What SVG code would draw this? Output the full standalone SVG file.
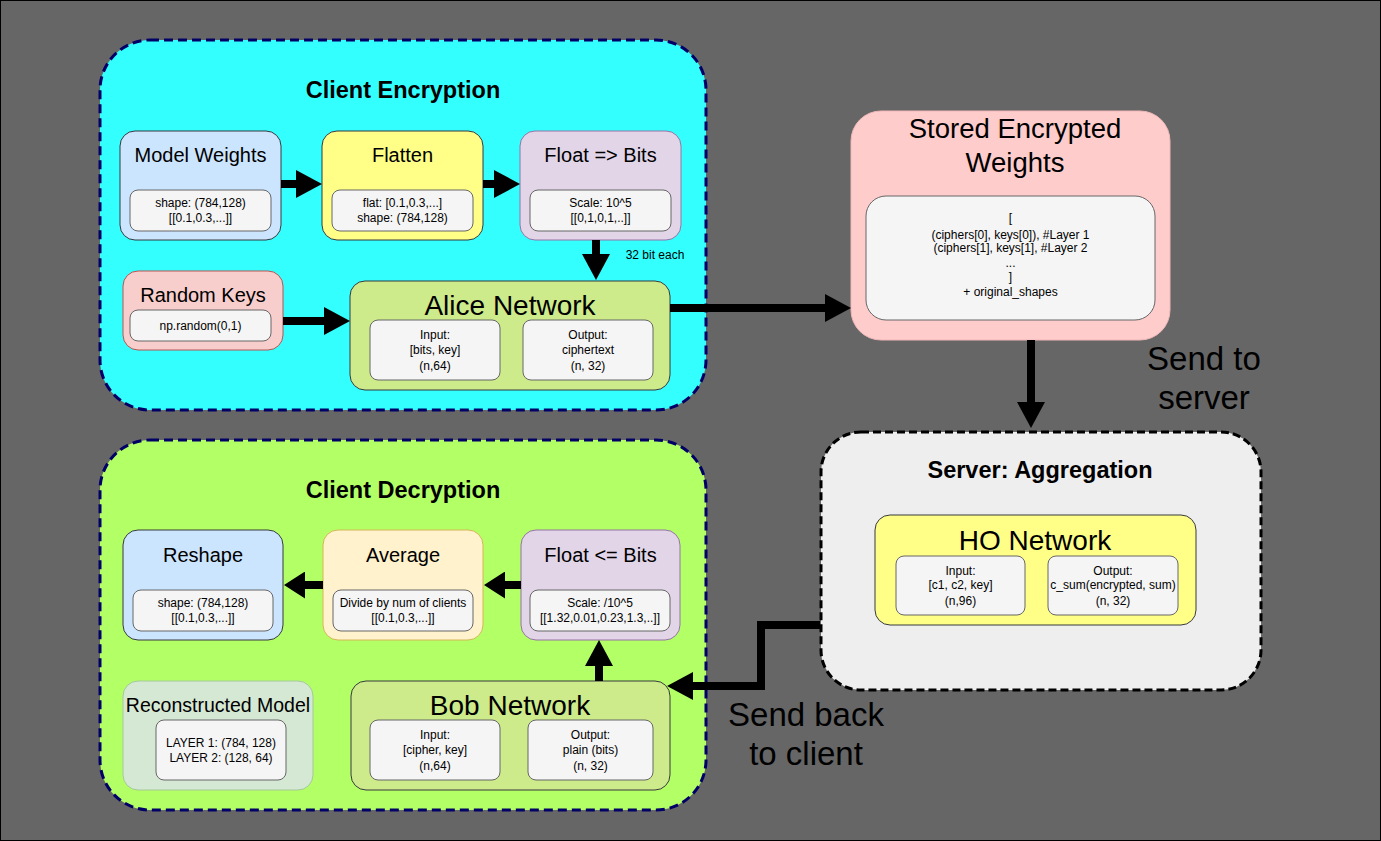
<svg xmlns="http://www.w3.org/2000/svg" width="1381" height="841" viewBox="0 0 1381 841">
<style>
text{font-family:"Liberation Sans",Arial,Helvetica,sans-serif;fill:#000;text-anchor:middle}
.t12{font-size:12px}
.t20{font-size:20px}
.t27{font-size:27.5px}
.t28{font-size:28px}
.t32{font-size:33px}
.tb{font-size:23.5px;font-weight:bold}
.cont{stroke:#000066;stroke-width:3;stroke-dasharray:9 5}
.inner{fill:#F5F5F5;stroke:#666666;stroke-width:1}
.dk{stroke:#36393D;stroke-width:1}
.edge{fill:none;stroke:#000;stroke-width:8}
</style>
<defs>
<marker id="head" viewBox="0 0 26 28" refX="0" refY="14" markerWidth="26" markerHeight="28" markerUnits="userSpaceOnUse" orient="auto">
<path d="M0 0 L26 14 L0 28 Z" fill="#000"/>
</marker>
<marker id="headS" viewBox="0 0 21 27" refX="0" refY="13.5" markerWidth="21" markerHeight="27" markerUnits="userSpaceOnUse" orient="auto">
<path d="M0 0 L21 13.5 L0 27 Z" fill="#000"/>
</marker>
</defs>
<rect x="0.5" y="0.5" width="1380" height="840" fill="#666666" stroke="#000" stroke-width="1"/>

<g id="client-encryption">
<rect x="100" y="40" width="606" height="370" rx="50" fill="#33FFFF" class="cont"/>
<text x="403" y="98" class="tb">Client Encryption</text>
</g>
<g id="client-decryption">
<rect x="100" y="440" width="606" height="370" rx="50" fill="#B3FF66" class="cont"/>
<text x="403" y="498" class="tb">Client Decryption</text>
</g>

<g id="model-weights">
<rect x="120" y="131" width="161" height="109" rx="15" fill="#CCE5FF" class="dk"/>
<text x="200.5" y="162" class="t20">Model Weights</text>
<rect x="130" y="190" width="141" height="41" rx="8" class="inner"/>
<text x="200.5" y="207" class="t12">shape: (784,128)</text>
<text x="200.5" y="222" class="t12">[[0.1,0.3,...]]</text>
</g>
<g id="flatten">
<rect x="322" y="131" width="161" height="109" rx="15" fill="#FFFF88" class="dk"/>
<text x="402.5" y="162" class="t20">Flatten</text>
<rect x="332" y="190" width="141" height="41" rx="8" class="inner"/>
<text x="402.5" y="207" class="t12">flat: [0.1,0.3,...]</text>
<text x="402.5" y="222" class="t12">shape: (784,128)</text>
</g>
<g id="float-to-bits">
<rect x="520" y="131" width="161" height="109" rx="15" fill="#E1D5E7" stroke="#9673A6" stroke-width="1"/>
<text x="600.5" y="162" class="t20">Float =&gt; Bits</text>
<rect x="530" y="190" width="141" height="41" rx="8" class="inner"/>
<text x="600.5" y="207" class="t12">Scale: 10^5</text>
<text x="600.5" y="222" class="t12">[[0,1,0,1,..]]</text>
</g>
<g id="random-keys">
<rect x="123" y="271" width="160" height="79" rx="15" fill="#F8CECC" stroke="#B85450" stroke-width="1"/>
<text x="203" y="302" class="t20">Random Keys</text>
<rect x="130" y="310" width="141" height="31" rx="8" class="inner"/>
<text x="200.5" y="330" class="t12">np.random(0,1)</text>
</g>
<g id="alice-network">
<rect x="350" y="281" width="320" height="109" rx="15" fill="#CDEB8B" class="dk"/>
<text x="510" y="315" class="t28">Alice Network</text>
<rect x="370" y="320" width="130" height="60" rx="8" class="inner"/>
<text x="435" y="339" class="t12">Input:</text>
<text x="435" y="354" class="t12">[bits, key]</text>
<text x="435" y="370" class="t12">(n,64)</text>
<rect x="523" y="320" width="130" height="60" rx="8" class="inner"/>
<text x="588" y="339" class="t12">Output:</text>
<text x="588" y="354" class="t12">ciphertext</text>
<text x="588" y="370" class="t12">(n, 32)</text>
</g>

<g id="stored-weights">
<rect x="851" y="111" width="319" height="229" rx="30" fill="#FFCCCC" stroke="#F0B8B8" stroke-width="1"/>
<text x="1015" y="138" class="t27">Stored Encrypted</text>
<text x="1015" y="172" class="t27">Weights</text>
<rect x="866" y="196" width="289" height="124" rx="20" class="inner"/>
<text x="1010.5" y="222" class="t12">[</text>
<text x="1010.5" y="239" class="t12">(ciphers[0], keys[0]), #Layer 1</text>
<text x="1010.5" y="252" class="t12">(ciphers[1], keys[1], #Layer 2</text>
<text x="1010.5" y="267" class="t12">...</text>
<text x="1010.5" y="281" class="t12">]</text>
<text x="1010.5" y="296" class="t12">+ original_shapes</text>
</g>

<g id="server">
<rect x="821" y="432" width="440" height="258" rx="40" fill="#EEEEEE" stroke="#000" stroke-width="3" stroke-dasharray="8 4"/>
<text x="1040" y="478" class="tb">Server: Aggregation</text>
</g>
<g id="ho-network">
<rect x="875" y="515" width="321" height="110" rx="15" fill="#FFFF88" class="dk"/>
<text x="1035" y="550" class="t28">HO Network</text>
<rect x="896" y="556" width="129" height="59" rx="8" class="inner"/>
<text x="960.5" y="575" class="t12">Input:</text>
<text x="960.5" y="589" class="t12">[c1, c2, key]</text>
<text x="960.5" y="605" class="t12">(n,96)</text>
<rect x="1048" y="556" width="130" height="59" rx="8" class="inner"/>
<text x="1113" y="575" class="t12">Output:</text>
<text x="1113" y="589" class="t12">c_sum(encrypted, sum)</text>
<text x="1113" y="605" class="t12">(n, 32)</text>
</g>

<g id="reshape">
<rect x="123" y="530" width="160" height="110" rx="15" fill="#CCE5FF" class="dk"/>
<text x="203" y="562" class="t20">Reshape</text>
<rect x="133" y="590" width="140" height="41" rx="8" class="inner"/>
<text x="203" y="607" class="t12">shape: (784,128)</text>
<text x="203" y="622" class="t12">[[0.1,0.3,...]]</text>
</g>
<g id="average">
<rect x="323" y="530" width="160" height="110" rx="15" fill="#FFF2CC" stroke="#D6B656" stroke-width="1"/>
<text x="403" y="562" class="t20">Average</text>
<rect x="333" y="590" width="140" height="41" rx="8" class="inner"/>
<text x="403" y="607" class="t12">Divide by num of clients</text>
<text x="403" y="622" class="t12">[[0.1,0.3,...]]</text>
</g>
<g id="float-from-bits">
<rect x="521" y="530" width="159" height="110" rx="15" fill="#E1D5E7" stroke="#9673A6" stroke-width="1"/>
<text x="600.5" y="562" class="t20">Float &lt;= Bits</text>
<rect x="530" y="590" width="140" height="41" rx="8" class="inner"/>
<text x="600" y="607" class="t12">Scale: /10^5</text>
<text x="600" y="622" class="t12">[[1.32,0.01,0.23,1.3,..]]</text>
</g>
<g id="reconstructed-model">
<rect x="123" y="681" width="190" height="109" rx="15" fill="#D5E8D4" stroke="#A5C89A" stroke-width="1"/>
<text x="218" y="712" class="t20" style="font-size:19.5px">Reconstructed Model</text>
<rect x="156" y="720" width="130" height="60" rx="8" class="inner"/>
<text x="221" y="747" class="t12">LAYER 1: (784, 128)</text>
<text x="221" y="762" class="t12">LAYER 2: (128, 64)</text>
</g>
<g id="bob-network">
<rect x="351" y="681" width="319" height="109" rx="15" fill="#CDEB8B" class="dk"/>
<text x="510" y="715" class="t28">Bob Network</text>
<rect x="370" y="720" width="130" height="60" rx="8" class="inner"/>
<text x="435" y="739" class="t12">Input:</text>
<text x="435" y="754" class="t12">[cipher, key]</text>
<text x="435" y="770" class="t12">(n,64)</text>
<rect x="528" y="720" width="125" height="60" rx="8" class="inner"/>
<text x="590.5" y="739" class="t12">Output:</text>
<text x="590.5" y="754" class="t12">plain (bits)</text>
<text x="590.5" y="770" class="t12">(n, 32)</text>
</g>

<g id="connectors">
<path class="edge" d="M281 184 H296" marker-end="url(#head)"/>
<path class="edge" d="M483 184 H494" marker-end="url(#head)"/>
<path class="edge" d="M596 240 V254" marker-end="url(#head)"/>
<path class="edge" d="M283 321 H324" marker-end="url(#head)"/>
<path class="edge" d="M670 308 H825" marker-end="url(#head)"/>
<path class="edge" d="M1031 340 V402" marker-end="url(#head)"/>
<path class="edge" d="M820 625 H761 V686 H693" marker-end="url(#head)"/>
<path class="edge" d="M599 681 V666" marker-end="url(#head)"/>
<path class="edge" d="M521 585 H505" marker-end="url(#headS)"/>
<path class="edge" d="M323 585 H305" marker-end="url(#headS)"/>
<text x="655" y="259" class="t12">32 bit each</text>
<text x="1204" y="370" class="t32">Send to</text>
<text x="1204" y="409" class="t32">server</text>
<text x="806" y="726" class="t32">Send back</text>
<text x="806" y="765" class="t32">to client</text>
</g>
</svg>
